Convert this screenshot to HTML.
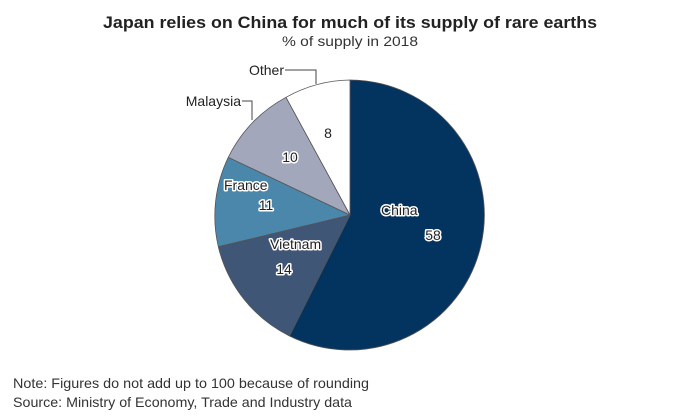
<!DOCTYPE html>
<html><head><meta charset="utf-8"><style>
html,body{margin:0;padding:0;background:#fff;}
svg{display:block;}
text{font-family:"Liberation Sans",sans-serif;}
.h{paint-order:stroke;stroke:#fff;stroke-width:3px;stroke-linejoin:round;}
</style></head><body>
<svg width="700" height="416" viewBox="0 0 700 416">
<text x="350" y="28" text-anchor="middle" font-size="17" font-weight="bold" fill="#222" textLength="494" lengthAdjust="spacingAndGlyphs">Japan relies on China for much of its supply of rare earths</text>
<text x="350" y="46" text-anchor="middle" font-size="14" fill="#333" textLength="136" lengthAdjust="spacingAndGlyphs">% of supply in 2018</text>
<g stroke="#555" stroke-width="0.8" stroke-linejoin="round">
<path d="M350,215 L350,80 A135,135 0 1,1 289.5,336 Z" fill="#03335f"/>
<path d="M350,215 L289.5,336 A135,135 0 0,1 218.3,246.7 Z" fill="#3f5676"/>
<path d="M350,215 L218.3,246.7 A135,135 0 0,1 228.3,157.3 Z" fill="#4b87ab"/>
<path d="M350,215 L228.3,157.3 A135,135 0 0,1 286,97.3 Z" fill="#a3a7bb"/>
<path d="M350,215 L286,97.3 A135,135 0 0,1 350,80 Z" fill="#fff"/>
</g>
<polyline points="285,70 316,70 316,84" fill="none" stroke="#444" stroke-width="1"/>
<polyline points="242,101 252,101 252,120" fill="none" stroke="#444" stroke-width="1"/>
<g font-size="14" fill="#222">
<text x="284" y="75" text-anchor="end">Other</text>
<text x="241" y="106" text-anchor="end">Malaysia</text>
<text class="h" x="328" y="138" text-anchor="middle">8</text>
<text class="h" x="290" y="162" text-anchor="middle">10</text>
<text class="h" x="224" y="190">France</text>
<text class="h" x="266" y="210" text-anchor="middle">11</text>
<text class="h" x="270" y="249">Vietnam</text>
<text class="h" x="284" y="274" text-anchor="middle">14</text>
<text class="h" x="381" y="215">China</text>
<text class="h" x="433" y="240" text-anchor="middle">58</text>
</g>
<text x="13" y="388" font-size="14" fill="#333" textLength="356" lengthAdjust="spacingAndGlyphs">Note: Figures do not add up to 100 because of rounding</text>
<text x="13" y="407" font-size="14" fill="#333" textLength="339" lengthAdjust="spacingAndGlyphs">Source: Ministry of Economy, Trade and Industry data</text>
</svg>
</body></html>
